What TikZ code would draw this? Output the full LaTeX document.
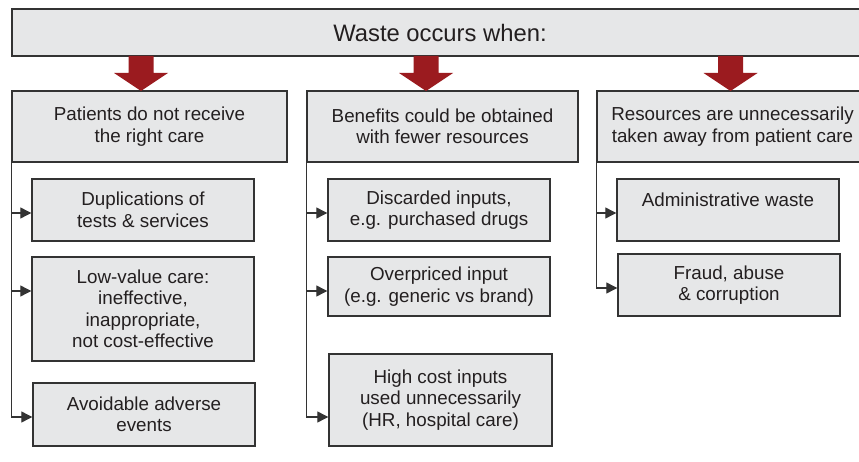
\documentclass[tikz,border=0pt]{standalone}
\usepackage{fontspec}
\setmainfont{Liberation Sans}
\usetikzlibrary{arrows.meta}
\definecolor{boxfill}{HTML}{E6E7E8}
\definecolor{boxline}{HTML}{333333}
\definecolor{txt}{HTML}{231F20}
\definecolor{bigred}{HTML}{9B1B1F}
\tikzset{
  box/.style={draw=boxline, line width=1.4pt, fill=boxfill, inner sep=0pt, align=center,
    text=txt, font=\fontsize{18.8}{21.5}\selectfont},
  conn/.style={draw=boxline, line width=1.2pt, -{Triangle[length=11pt,width=11pt]}},
  trunk/.style={draw=boxline, line width=1.2pt},
  bigarrow/.style={fill=bigred, draw=none}
}
\begin{document}
\begin{tikzpicture}[x=1pt,y=-1pt]
\clip (0,0) rectangle (859,462);
\fill[white] (0,0) rectangle (859,462);
% top
\node[box, minimum width=856pt, minimum height=47pt, font=\fontsize{23.8}{26}\selectfont] (top) at (440,32.5) {Waste occurs when:};
% level 2
\node[box, minimum width=275pt, minimum height=71pt] (p1) at (149.5,126.5) {Patients do not receive\\the right care};
\node[box, minimum width=271pt, minimum height=71pt] (p2) at (442.5,126.5) {Benefits could be obtained\\with fewer resources};
\node[box, minimum width=271pt, minimum height=71pt] (p3) at (732.5,126.5) {Resources are unnecessarily\\taken away from patient care};
% red arrows
\foreach \cx in {141,426,730.5}{
  \fill[bigarrow] (\cx-12.5,56) -- (\cx+12.5,56) -- (\cx+12.5,73) -- (\cx+27,73) -- (\cx,91) -- (\cx-27,73) -- (\cx-12.5,73) -- cycle;
}
% column 1
\node[box, minimum width=222pt, minimum height=62pt] (c11) at (143,210) {Duplications of\\tests \& services};
\node[box, minimum width=222pt, minimum height=104pt] (c12) at (143,309) {Low-value care:\\ineffective,\\inappropriate,\\not cost-effective};
\node[box, minimum width=222pt, minimum height=63pt] (c13) at (144,414.5) {Avoidable adverse\\events};
% column 2
\node[box, minimum width=222pt, minimum height=62pt] (c21) at (439,210) {Discarded inputs,\\e.g. purchased drugs};
\node[box, minimum width=222pt, minimum height=59pt] (c22) at (439,286.5) {Overpriced input\\(e.g. generic vs brand)};
\node[box, minimum width=223pt, minimum height=92pt] (c23) at (440.5,400) {High cost inputs\\used unnecessarily\\(HR, hospital care)};
% column 3
\node[box, minimum width=222pt, minimum height=62pt] (c31) at (728,210) {Administrative waste\\\mbox{}};
\node[box, minimum width=222pt, minimum height=62pt] (c32) at (729,285) {Fraud, abuse\\\& corruption};
% connectors column 1
\draw[trunk] (p1.south west) -- (p1.south west |- 0,417);
\draw[conn] (p1.south west |- 0,213) -- (c11.west |- 0,213);
\draw[conn] (p1.south west |- 0,291) -- (c12.west |- 0,291);
\draw[conn] (p1.south west |- 0,417) -- (c13.west |- 0,417);
% connectors column 2
\draw[trunk] (p2.south west) -- (p2.south west |- 0,417);
\draw[conn] (p2.south west |- 0,213) -- (c21.west |- 0,213);
\draw[conn] (p2.south west |- 0,291) -- (c22.west |- 0,291);
\draw[conn] (p2.south west |- 0,417) -- (c23.west |- 0,417);
% connectors column 3
\draw[trunk] (p3.south west) -- (p3.south west |- 0,288);
\draw[conn] (p3.south west |- 0,213) -- (c31.west |- 0,213);
\draw[conn] (p3.south west |- 0,288) -- (c32.west |- 0,288);
\end{tikzpicture}
\end{document}
